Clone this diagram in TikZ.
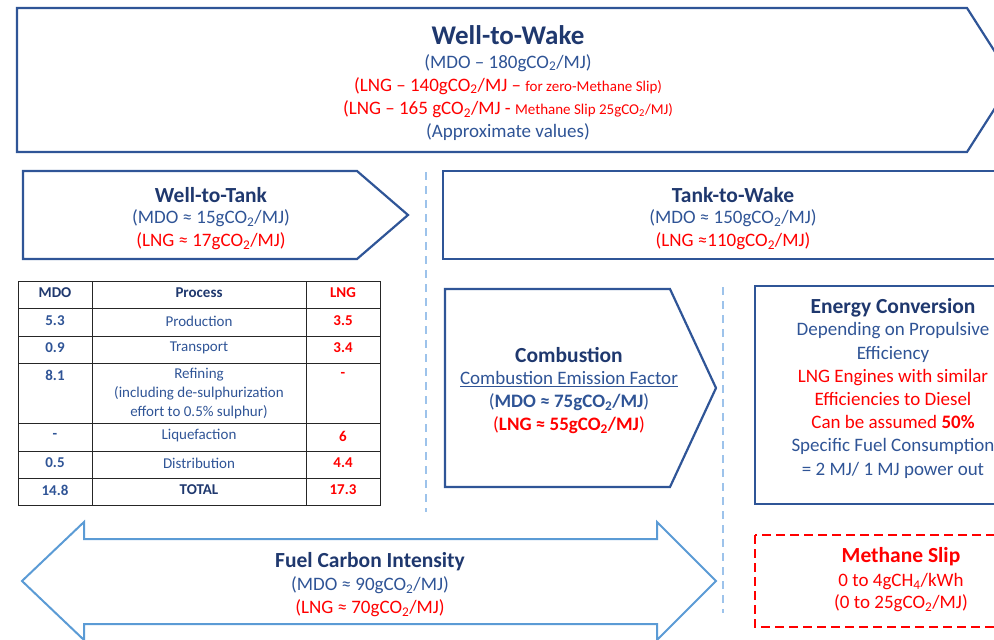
\documentclass[tikz,border=0pt]{standalone}
\usepackage{fontspec}
\setmainfont{Carlito}
\definecolor{navy}{RGB}{31,56,110}
\definecolor{tblue}{RGB}{47,84,150}
\definecolor{bord}{RGB}{47,85,151}
\definecolor{lblue}{RGB}{91,155,213}
\definecolor{dashblue}{RGB}{157,195,235}
\definecolor{tred}{RGB}{255,0,0}
\newcommand{\COt}{CO\textsubscript{2}}
\newcommand{\CHf}{CH\textsubscript{4}}
\begin{document}
\begin{tikzpicture}[x=1pt,y=-1pt,
  shapebox/.style={draw=bord,line width=2.2pt,line join=miter},
  dblarrow/.style={draw=lblue,line width=2pt,line join=miter},
  divider/.style={draw=dashblue,line width=2.5pt,dash pattern=on 8pt off 6pt},
  slipbox/.style={draw=tred,line width=2.2pt,dash pattern=on 9pt off 5pt},
  ttl/.style={font=\fontsize{21.5}{24}\selectfont\bfseries,text=navy,inner sep=0pt,yshift=-1.5pt},
  textbody/.style={font=\fontsize{19}{23.2}\selectfont,text=tblue,align=center,inner sep=0pt,yshift=-1.5pt},
  tbl/.style={font=\fontsize{15}{19}\selectfont,inner sep=0pt,align=center,text=tblue,yshift=-1pt},
  tblb/.style={tbl,font=\fontsize{15}{19}\selectfont\bfseries},
  tblr/.style={tblb,text=tred},
  tblline/.style={draw=black!85,line width=1pt}]
\useasboundingbox (0,0) rectangle (994,640);
\clip (0,0) rectangle (994,640);

% ---- Well-to-Wake ----
\draw[shapebox] (17,8) -- (967,8) -- (1013,80) -- (967,152) -- (17,152) -- cycle;
\node[ttl,font=\fontsize{27}{30}\selectfont\bfseries] (wtwtitle) at (508,34) {Well-to-Wake};
\node[textbody] (wtwbody) at (508,96) {(MDO – 180g\COt/MJ)\\
\textcolor{tred}{(LNG – 140g\COt/MJ – {\fontsize{15}{23.2}\selectfont for zero-Methane Slip)}}\\
\textcolor{tred}{(LNG – 165 g\COt/MJ - {\fontsize{15}{23.2}\selectfont Methane Slip 25g\COt/MJ)}}\\
(Approximate values)};

% ---- Well-to-Tank ----
\draw[shapebox] (23,171) -- (357,171) -- (408,215) -- (357,259) -- (23,259) -- cycle;
\node[ttl] (wtttitle) at (211,194) {Well-to-Tank};
\node[textbody] (wttbody) at (211,228.5) {(MDO ≈ 15g\COt/MJ)\\ \textcolor{tred}{(LNG ≈ 17g\COt/MJ)}};

% ---- Tank-to-Wake ----
\draw[shapebox] (443,171) rectangle (1000,259);
\node[ttl] (ttwtitle) at (733,194) {Tank-to-Wake};
\node[textbody] (ttwbody) at (733,228.5) {(MDO ≈ 150g\COt/MJ)\\ \textcolor{tred}{(LNG ≈110g\COt/MJ)}};

% ---- dividers ----
\coordinate (d1a) at (426,172);
\coordinate (d1b) at (426,512);
\coordinate (d2a) at (723,287);
\coordinate (d2b) at (723,613);
\draw[divider] (d1a) -- (d1b);
\draw[divider] (d2a) -- (d2b);

% ---- Table ----
\draw[tblline] (18,281) rectangle (380,505);
\foreach \yy in {308,336,363,423,451,478} \draw[tblline] (18,\yy) -- (380,\yy);
\draw[tblline] (92,281) -- (92,505);
\draw[tblline] (306,281) -- (306,505);
\node[tblb,text=navy] (hmdo) at (55,292) {MDO};
\node[tblb,text=navy] (hproc) at (199,292) {Process};
\node[tblr] (hlng) at (343,292) {LNG};
\node[tblb] (m1) at (55,320) {5.3};
\node[tbl] (p1) at (199,320) {Production};
\node[tblr] (l1) at (343,320) {3.5};
\node[tblb] (m2) at (55,347) {0.9};
\node[tbl] (p2) at (199,347) {Transport};
\node[tblr] (l2) at (343,347) {3.4};
\node[tblb] (m3) at (55,374) {8.1};
\node[tbl,font=\fontsize{15}{19}\selectfont] (p3) at (199,393) {Refining\\(including de-sulphurization\\effort to 0.5\% sulphur)};
\node[tblr] (l3) at (343,374) {-};
\node[tblb] (m4) at (55,435) {-};
\node[tbl] (p4) at (199,435) {Liquefaction};
\node[tblr] (l4) at (343,435) {6};
\node[tblb] (m5) at (55,462) {0.5};
\node[tbl] (p5) at (199,462) {Distribution};
\node[tblr] (l5) at (343,462) {4.4};
\node[tblb] (m6) at (55,489) {14.8};
\node[tblb,text=navy] (p6) at (199,489) {TOTAL};
\node[tblr] (l6) at (343,489) {17.3};

% ---- Combustion ----
\draw[shapebox] (445,289) -- (670,289) -- (716,388) -- (670,487) -- (445,487) -- cycle;
\node[ttl] (combtitle) at (569,354) {Combustion};
\node[textbody] (combbody) at (569,401) {\underline{Combustion Emission Factor}\\
(\textbf{MDO ≈ 75g\COt/MJ})\\
\textcolor{tred}{(\textbf{LNG ≈ 55g\COt/MJ})}};

% ---- Energy Conversion ----
\draw[shapebox] (755,286) rectangle (1000,504);
\node[ttl] (ectitle) at (893,306) {Energy Conversion};
\node[textbody] (ecbody) at (893,399) {Depending on Propulsive\\ Efficiency\\
\textcolor{tred}{LNG Engines with similar}\\
\textcolor{tred}{Efficiencies to Diesel}\\
\textcolor{tred}{Can be assumed \textbf{50\%}}\\
Specific Fuel Consumption\\ = 2 MJ/ 1 MJ power out};

% ---- Fuel Carbon Intensity ----
\draw[dblarrow] (22,581) -- (84,522) -- (84,539) -- (657,539) -- (657,522) -- (716,581)
  -- (657,640) -- (657,624) -- (84,624) -- (84,640) -- cycle;
\node[ttl] (fcititle) at (370,560) {Fuel Carbon Intensity};
\node[textbody] (fcibody) at (370,595.5) {(MDO ≈ 90g\COt/MJ)\\ \textcolor{tred}{(LNG ≈ 70g\COt/MJ)}};

% ---- Methane Slip ----
\draw[slipbox] (755,535) rectangle (1000,627);
\node[ttl,text=tred] (mstitle) at (901,555) {Methane Slip};
\node[textbody,text=tred,font=\fontsize{19}{22}\selectfont] (msbody) at (901,591) {0 to 4g\CHf/kWh\\ (0 to 25g\COt/MJ)};
\end{tikzpicture}
\end{document}
